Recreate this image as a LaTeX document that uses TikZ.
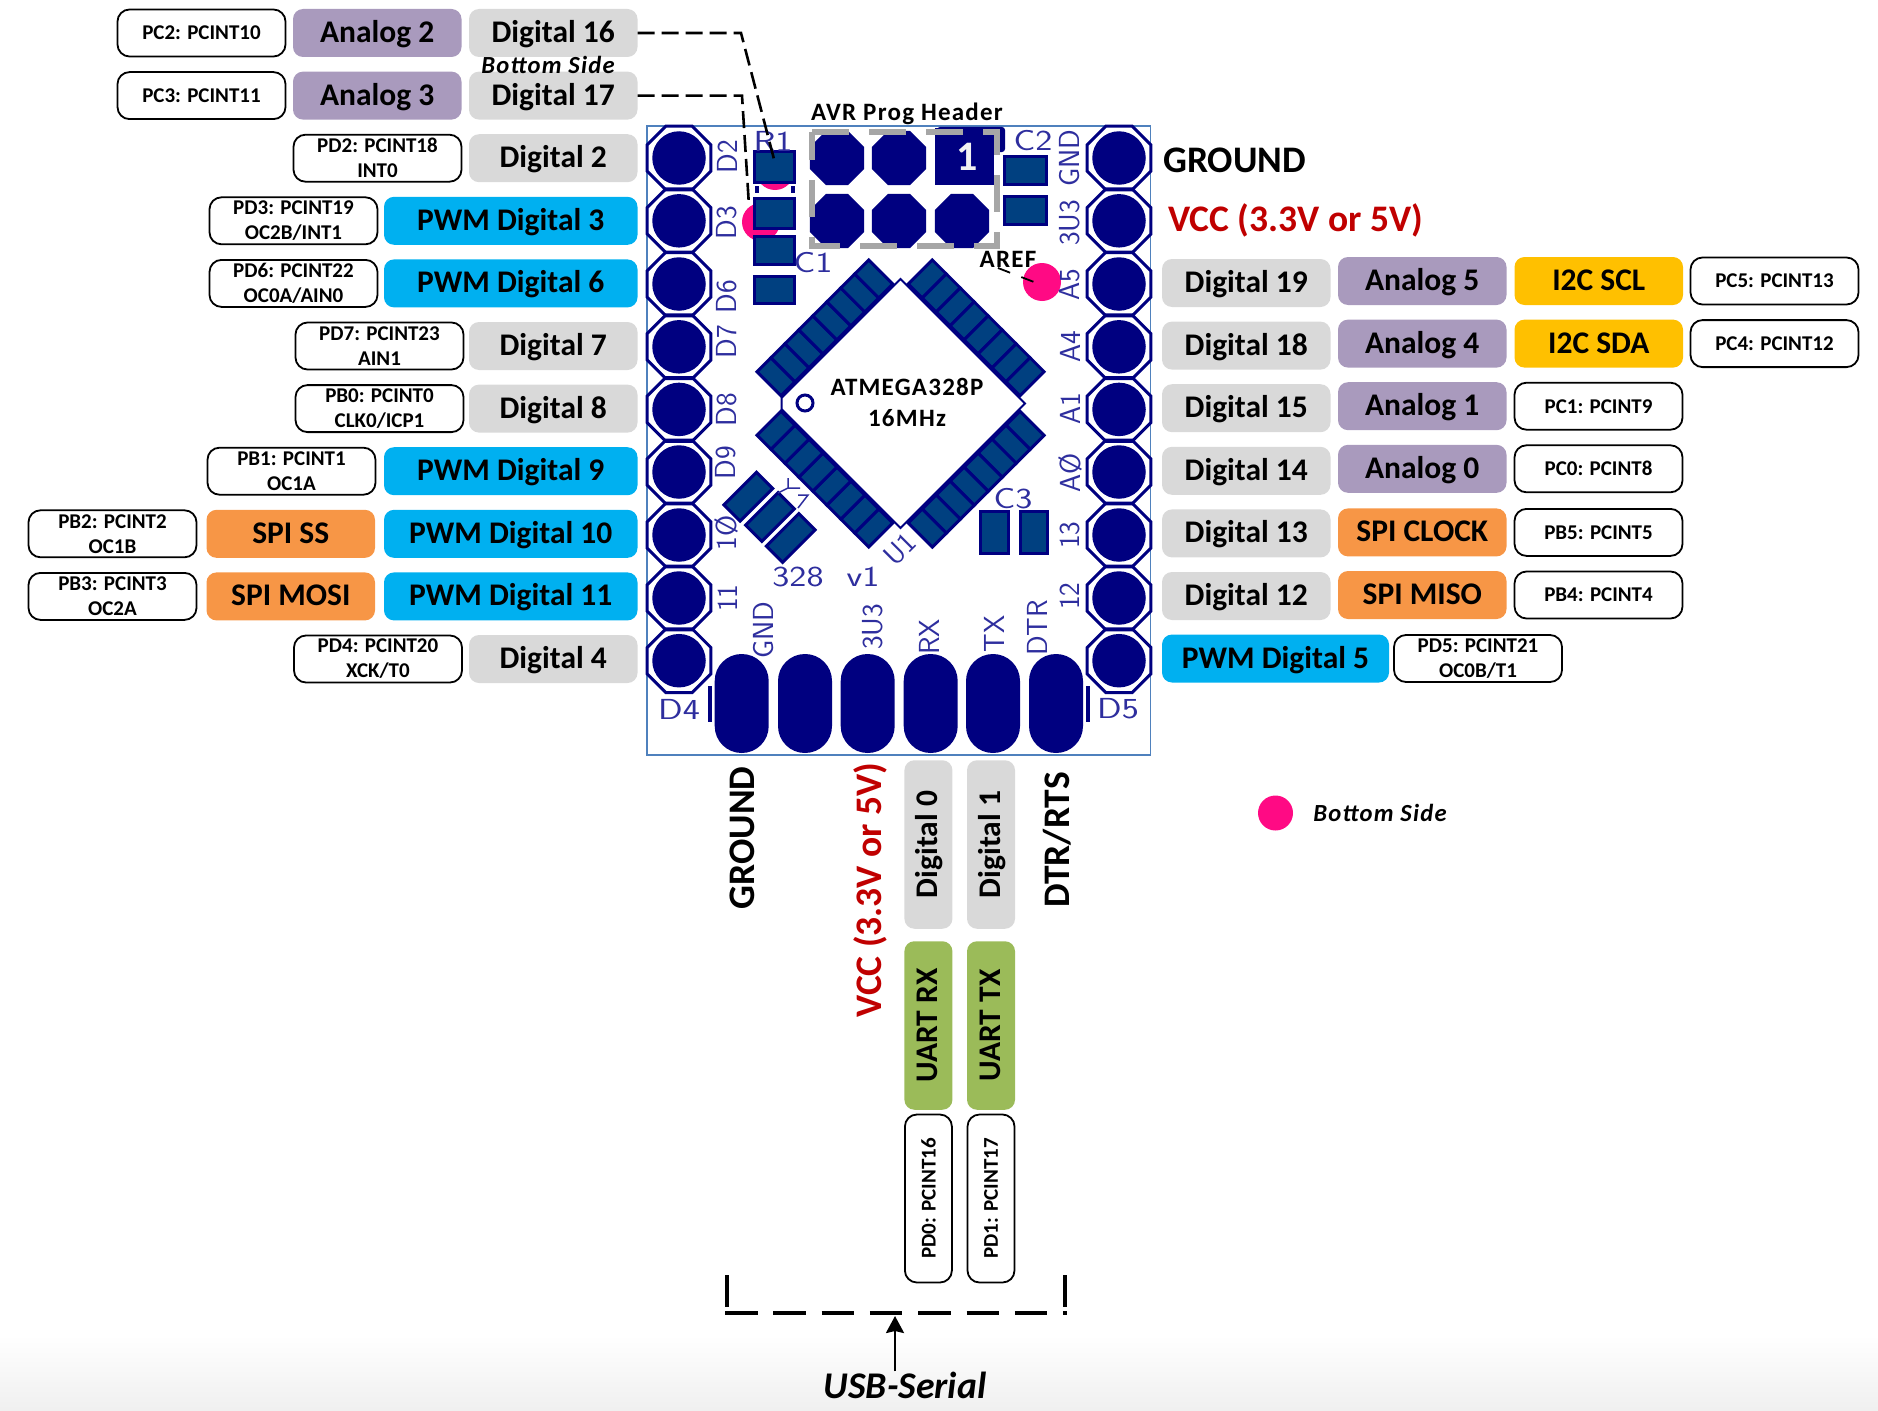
\documentclass[tikz,border=0pt]{standalone}
\usepackage{fontspec}
\setmainfont{Carlito}
\newfontfamily\spaced[LetterSpace=5]{Carlito}
\usetikzlibrary{arrows.meta, positioning, calc, shapes.geometric}

\definecolor{pcbnavy}{HTML}{000080}
\definecolor{smdblue}{HTML}{004080}
\definecolor{silkblue}{HTML}{2E2E9E}
\definecolor{boardline}{HTML}{4F81BD}
\definecolor{digigray}{HTML}{D9D9D9}
\definecolor{anapurple}{HTML}{A99ABD}
\definecolor{pwmblue}{HTML}{00B0F0}
\definecolor{spiorange}{HTML}{F79646}
\definecolor{i2cyellow}{HTML}{FFC000}
\definecolor{uartgreen}{HTML}{9BBB59}
\definecolor{vccred}{HTML}{C00000}
\definecolor{dotpink}{HTML}{FF0A84}
\definecolor{hdrgray}{HTML}{A6A6A6}

\begin{document}
\begin{tikzpicture}[
		x=1pt, y=-1pt,
		big/.style={font=\fontsize{31.5}{33}\selectfont\bfseries, text=black},
		pill/.style={big, rectangle, rounded corners=10pt, minimum width=168.5pt, minimum height=48pt, inner sep=0pt, outer sep=0pt, text height=20pt, text depth=1pt},
		digi/.style={pill, fill=digigray},
		ana/.style={pill, fill=anapurple},
		pwm/.style={pill, fill=pwmblue, minimum width=253.5pt},
		spi/.style={pill, fill=spiorange},
		i2c/.style={pill, fill=i2cyellow},
		uart/.style={pill, fill=uartgreen},
		pinlbl/.style={rectangle, rounded corners=12pt, draw=black, line width=1.8pt, fill=white, minimum width=168pt, minimum height=47pt, inner sep=0pt, outer sep=0pt, align=center, font=\fontsize{21}{25}\selectfont\bfseries},
		rail/.style={font=\fontsize{37.5}{39}\selectfont\bfseries, text=black, inner sep=0pt},
		vcc/.style={rail, text=vccred},
		silk/.style={font=\fontsize{29}{31}\selectfont\sffamily, text=silkblue, inner sep=0pt},
		ring/.style={regular polygon, regular polygon sides=8, minimum size=69pt, inner sep=0pt, outer sep=0pt, draw=pcbnavy, line width=3pt},
		pad/.style={circle, fill=pcbnavy, minimum size=53.5pt, inner sep=0pt},
		octpad/.style={regular polygon, regular polygon sides=8, fill=pcbnavy, minimum size=58.5pt, inner sep=0pt, outer sep=0pt},
		smd/.style={draw=pcbnavy, fill=smdblue, line width=3pt},
		smdrot/.style={smd, rectangle, rotate=45, minimum width=46pt, minimum height=23pt, inner sep=0pt},
		oval/.style={rectangle, rounded corners=26.9pt, fill=pcbnavy, minimum width=54pt, minimum height=99pt, inner sep=0pt},
		dot/.style={circle, fill=dotpink, minimum size=38pt, inner sep=0pt},
		wire/.style={black, line width=2.6pt, dash pattern=on 17pt off 7pt},
		note/.style={font=\fontsize{25}{27}\selectfont\spaced\bfseries, text=black, inner sep=0pt},
		sidenote/.style={font=\fontsize{24.6}{26}\selectfont\spaced\bfseries\itshape, text=black, inner sep=0pt},
		usbline/.style={black, line width=4.4pt}
		]
		\useasboundingbox (0,0) rectangle (1878,1410);
		\fill[top color=white, bottom color=gray!12] (0,1335) rectangle (1878,1410);
		
		% 1. Left side, top to bottom
		\node[digi, anchor=east] (d16) at (637.5,33) {Digital 16};
		\node[ana, left=7.5pt of d16] (a2) {Analog 2};
		\node[pinlbl, left=7.5pt of a2] (pc2) {PC2: PCINT10};
		
		\node[digi, anchor=east] (d17) at (637.5,95.6) {Digital 17};
		\node[ana, left=7.5pt of d17] (a3) {Analog 3};
		\node[pinlbl, left=7.5pt of a3] (pc3) {PC3: PCINT11};
		\node[sidenote] (bside) at (548,65) {Bottom Side};
		
		\node[digi, anchor=east] (d2) at (637.5,158.2) {Digital 2};
		\node[pinlbl, left=7.5pt of d2] (pd2) {PD2: PCINT18\\INT0};
		\node[pwm, anchor=east] (d3) at (637.5,220.8) {PWM Digital 3};
		\node[pinlbl, left=6.5pt of d3] (pd3) {PD3: PCINT19\\OC2B/INT1};
		\node[pwm, anchor=east] (d6) at (637.5,283.4) {PWM Digital 6};
		\node[pinlbl, left=6.5pt of d6] (pd6) {PD6: PCINT22\\OC0A/AIN0};
		\node[digi, anchor=east] (d7) at (637.5,346) {Digital 7};
		\node[pinlbl, left=5.5pt of d7] (pd7) {PD7: PCINT23\\AIN1};
		\node[digi, anchor=east] (d8) at (637.5,408.6) {Digital 8};
		\node[pinlbl, left=5.5pt of d8] (pb0) {PB0: PCINT0\\CLK0/ICP1};
		\node[pwm, anchor=east] (d9) at (637.5,471.2) {PWM Digital 9};
		\node[pinlbl, left=8.5pt of d9] (pb1) {PB1: PCINT1\\OC1A};
		\node[pwm, anchor=east] (d10) at (637.5,533.8) {PWM Digital 10};
		\node[spi, left=9pt of d10] (ss) {SPI SS};
		\node[pinlbl, left=10pt of ss] (pb2) {PB2: PCINT2\\OC1B};
		\node[pwm, anchor=east] (d11) at (637.5,596.4) {PWM Digital 11};
		\node[spi, left=9pt of d11] (mosi) {SPI MOSI};
		\node[pinlbl, left=10pt of mosi] (pb3) {PB3: PCINT3\\OC2A};
		\node[digi, anchor=east] (d4) at (637.5,659) {Digital 4};
		\node[pinlbl, left=7pt of d4] (pd4) {PD4: PCINT20\\XCK/T0};
		
		% 2. Right side, top to bottom
		\node[rail, anchor=west] (gndr) at (1163,160) {GROUND};
		\node[vcc, anchor=west] (vccr) at (1168,220) {VCC (3.3V or 5V)};
		
		\node[digi, anchor=west] (d19) at (1162,283) {Digital 19};
		\node[ana, anchor=west] (a5) at (1338,281) {Analog 5};
		\node[i2c, right=8pt of a5] (scl) {I2C SCL};
		\node[pinlbl, right=7.5pt of scl] (pc5) {PC5: PCINT13};
		\node[digi, anchor=west] (d18) at (1162,345.6) {Digital 18};
		\node[ana, anchor=west] (a4) at (1338,343.6) {Analog 4};
		\node[i2c, right=8pt of a4] (sda) {I2C SDA};
		\node[pinlbl, right=7.5pt of sda] (pc4) {PC4: PCINT12};
		\node[digi, anchor=west] (d15) at (1162,408.2) {Digital 15};
		\node[ana, anchor=west] (a1) at (1338,406.2) {Analog 1};
		\node[pinlbl, right=8pt of a1] (pc1) {PC1: PCINT9};
		\node[digi, anchor=west] (d14) at (1162,470.8) {Digital 14};
		\node[ana, anchor=west] (a0) at (1338,468.8) {Analog 0};
		\node[pinlbl, right=8pt of a0] (pc0) {PC0: PCINT8};
		\node[digi, anchor=west] (d13) at (1162,533.4) {Digital 13};
		\node[spi, anchor=west] (clock) at (1338,532.4) {SPI CLOCK};
		\node[pinlbl, right=8pt of clock] (pb5) {PB5: PCINT5};
		\node[digi, anchor=west] (d12) at (1162,596) {Digital 12};
		\node[spi, anchor=west] (miso) at (1338,595) {SPI MISO};
		\node[pinlbl, right=8pt of miso] (pb4) {PB4: PCINT4};
		\node[pwm, anchor=west, minimum width=227pt] (d5) at (1162,658.5) {PWM Digital 5};
		\node[pinlbl, right=5pt of d5] (pd5) {PD5: PCINT21\\OC0B/T1};
		
		% 3. Board
		\draw[boardline, line width=1.5pt] (647,126) rectangle (1150.7,755);
		\node[dot] (dotr) at (775,171) {};
		\node[dot] (dotd) at (761,222) {};
		\node[dot] (aref) at (1042,282) {};
		\foreach \y [count=\k] in {158,220.8,284,346.8,409.4,472,535,598,660.7} {
			\node[ring] (ringl\k) at (679,\y) {};
			\node[pad] (padl\k) at (679,\y) {};
			\node[ring] (ringr\k) at (1119,\y) {};
			\node[pad] (padr\k) at (1119,\y) {};
		}
		\foreach \x [count=\k] in {741.7,805,867.7,930.7,993,1056} {
			\node[oval] (oval\k) at (\x,703.5) {};
		}
		\fill[pcbnavy] (708,686) rectangle (712,722);
		\fill[pcbnavy] (1086,686) rectangle (1090,722);
		
		% SMD parts
		\draw[smd] (754,151) rectangle (794,182);
		\draw[smd] (754,198) rectangle (794,228);
		\draw[smd] (754,236) rectangle (794,264);
		\draw[smd] (754,276) rectangle (794,303);
		\draw[smd] (1004,156) rectangle (1046,184);
		\draw[smd] (1004,196) rectangle (1046,224);
		\draw[smd] (980,511) rectangle (1008,553);
		\draw[smd] (1020,511) rectangle (1047,553);
		\fill[pcbnavy] (755,186) rectangle (758.5,193);
		\fill[pcbnavy] (791,186) rectangle (794.5,193);
		\node[smdrot] (rota) at (748.3,496.7) {};
		\node[smdrot] (rotb) at (770,517) {};
		\node[smdrot] (rotc) at (790.7,538) {};
		\draw[silkblue, line width=1.5pt] (778,493) -- (788,488) -- (788,478) (788,488) -- (800,488);
		\draw[silkblue, line width=1.5pt] (798,495) -- (808,495) -- (798,508);
		
		% AVR header
		\foreach \x/\y [count=\k] in {837/158,899/158,837/221,899/221,962/221} {
			\node[octpad] (avr\k) at (\x,\y) {};
		}
		\fill[pcbnavy, rounded corners=3pt] (937,127) rectangle (1005,152);
		\fill[pcbnavy] (935,128) rectangle (994,185);
		\node[font=\fontsize{42}{44}\selectfont\bfseries, text=white!95!black, inner sep=0pt] (one) at (967,157) {1};
		\draw[hdrgray, line width=5.5pt, dash pattern=on 37pt off 20pt] (812,132) -- (997,132) -- (997,246) -- (812,246) -- cycle;
		\node[note] (avrhdr) at (907,114) {AVR Prog Header};
		\node[note] (areflbl) at (1008,259) {AREF};
		\coordinate (areftip) at (1034,282);
		\draw[black, line width=1.8pt, dash pattern=on 13pt off 12pt] (998,268) -- (areftip);
		
		% 4. Chip
		\begin{scope}[shift={(900.5,403.5)}, rotate=45, x=1pt, y=1pt]
			\draw[pcbnavy, line width=2pt] (-80,88) -- (88,88) -- (88,-88) -- (-88,-88) -- (-88,80) -- cycle;
		\end{scope}
		\foreach \a in {45,135,225,315} {
			\begin{scope}[shift={(900.5,403.5)}, rotate=\a, x=1pt, y=1pt]
				\foreach \k in {0,...,7} {
					\draw[smd] ({-79+\k*19.75},90) rectangle ++(19.75,34);
				}
			\end{scope}
		}
		\draw[pcbnavy, line width=3pt] (805,403) circle[radius=8pt];
		\node[note] (mcu) at (907,387) {ATMEGA328P};
		\node[note] (mhz) at (907,418) {16MHz};
		
		% Silk labels
		\foreach \txt/\x/\y in {D2/727/157,D3/727/223,D6/727/297,D7/727/342,D8/727/410,D9/726/463,1Ø/726/533,11/728/598,GND/1070/158,3U3/1070/223,A5/1070/285,A4/1070/347,A1/1070/409,AØ/1070/473,13/1070/535,12/1070/596,GND/764/630,3U3/873/627,RX/929/637,TX/994/634,DTR/1037/628} {
			\node[silk, rotate=90] at (\x,\y) {\txt};
		}
		\foreach \txt/\x/\y in {R1/773/141,C1/813/263,C2/1033/141,C3/1013/499,328/798/577,v1/863/577,D4/679/709,D5/1118/709} {
			\node[silk] at (\x,\y) {\scalebox{1.25}[1]{\txt}};
		}
		\node[silk, rotate=45] (u1) at (900,549) {U1};
		
		% 5. Below the board
		\node[rail, rotate=90] (gndb) at (742.6,838) {GROUND};
		\node[vcc, rotate=90] (vccb) at (870.7,890) {VCC (3.3V or 5V)};
		\node[rail, rotate=90] (dtr) at (1057.6,840) {DTR/RTS};
		
		\node[digi, rotate=90] (d0) at (928.4,844.5) {Digital 0};
		\node[digi, rotate=90] (d1) at (991,844.5) {Digital 1};
		\node[uart, rotate=90] (rx) at (928.4,1025.5) {UART RX};
		\node[uart, rotate=90] (tx) at (991,1025.5) {UART TX};
		\node[pinlbl, rotate=90] (pd0) at (928.4,1198.5) {PD0: PCINT16};
		\node[pinlbl, rotate=90] (pd1) at (991,1198.5) {PD1: PCINT17};
		
		% Legend
		\node[dot, minimum size=35pt] (legend) at (1275.5,813) {};
		\node[sidenote, right=20pt of legend] (legendlbl) {Bottom Side};
		
		% USB-Serial bracket
		\node[font=\fontsize{37.7}{40}\selectfont\bfseries\itshape, inner sep=0pt] (usb) at (905,1385) {USB-Serial};
		\coordinate (usbtip) at (895,1316);
		\draw[usbline] (727,1275) -- (727,1307);
		\draw[usbline] (1065,1275) -- (1065,1307);
		\draw[usbline, dash pattern=on 32.5pt off 15.8pt] (725,1313) -- (1067,1313);
		\draw[-{Stealth[length=17pt, width=18pt, inset=2pt]}, line width=2.4pt] (usbtip |- usb.north) -- (usbtip);
		
		% Connectors from the bottom side pins
		\coordinate (bend16) at (741,33);
		\coordinate (r1tip) at (775,163);
		\coordinate (bend17) at (742,95.6);
		\coordinate (d3tip) at (749,206);
		\draw[wire] (d16.east) -- (bend16) -- (r1tip);
		\draw[wire] (d17.east) -- (bend17) -- (d3tip);
	\end{tikzpicture}
\end{document}
